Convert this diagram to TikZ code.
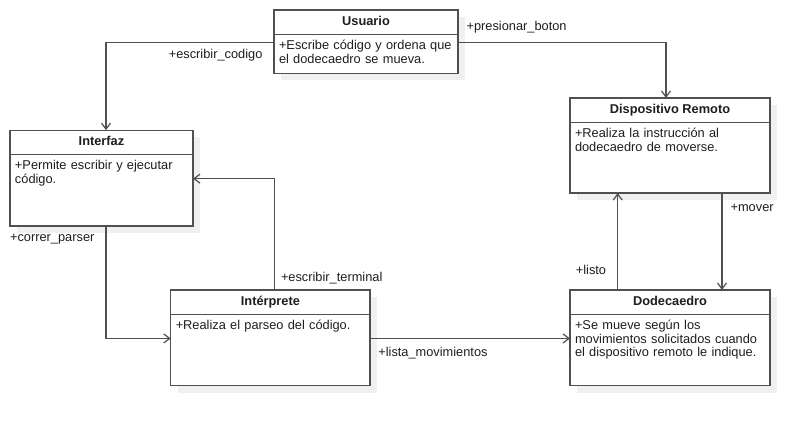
\documentclass[tikz,border=0pt]{standalone}
\usepackage{fontspec}
\setmainfont{Liberation Sans}
\usetikzlibrary{positioning,arrows.meta,shadows}
\definecolor{linegray}{HTML}{505050}
\definecolor{shadowgray}{HTML}{F0F0F0}
\definecolor{textgray}{HTML}{1E1E1E}
\tikzstyle{class head}=[
        draw = linegray,
        line width = 1.2pt,
        fill = white,
        text = textgray,
        outer sep = 0pt,
        minimum height = 24.5pt,
        text height = 9.3pt,
        text depth = 2.7pt,
        font = \fontsize{12.8}{13.3}\selectfont\bfseries,
        drop shadow = {shadow xshift=7pt, shadow yshift=-7pt, fill=shadowgray, opacity=1}
    ]
\tikzstyle{class body}=[
        draw = linegray,
        line width = 1.2pt,
        fill = white,
        text = textgray,
        outer sep = 0pt,
        inner xsep = 5pt,
        inner ysep = 0pt,
        align = left,
        text height = 15.3pt,
        text depth = 56pt,
        font = \fontsize{12.8}{13.3}\selectfont,
        drop shadow = {shadow xshift=7pt, shadow yshift=-7pt, fill=shadowgray, opacity=1}
    ]
\tikzstyle{link}=[
        draw = linegray,
        line width = 1.2pt,
        -{Straight Barb[length=6pt, width=9pt]}
    ]
\tikzstyle{role}=[
        inner sep = 0pt,
        text = textgray,
        font = \fontsize{12.8}{13.3}\selectfont
    ]

\begin{document}
\begin{tikzpicture}[x=1pt, y=-1pt]
        \fill[white] (0,0) rectangle (812,426);
        \useasboundingbox (0,0) rectangle (812,426);

        \node[class head, minimum width=184pt] (usr) at (366,22.2) {Usuario};
        \node[class body, text width=174pt, text depth=23.7pt, below=0pt of usr] (usrb) {+Escribe código y ordena que\\el dodecaedro se mueva.};

        \node[class head, minimum width=183pt] (intf) at (101.5,142.4) {Interfaz};
        \node[class body, text width=173pt, below=0pt of intf] (intfb) {+Permite escribir y ejecutar\\código.};

        \node[class head, minimum width=200pt] (disp) at (670,110.2) {Dispositivo Remoto};
        \node[class body, text width=190pt, text depth=55.3pt, below=0pt of disp] (dispb) {+Realiza la instrucción al\\dodecaedro de moverse.};

        \node[class head, minimum width=199.3pt] (interp) at (270.4,302.2) {Intérprete};
        \node[class body, text width=189.3pt, below=0pt of interp] (interpb) {+Realiza el parseo del código.};

        \node[class head, minimum width=200pt] (dode) at (670,302.2) {Dodecaedro};
        \node[class body, text width=190pt, below=0pt of dode] (dodeb) {+Se mueve según los\\movimientos solicitados cuando\\el dispositivo remoto le indique.};

        \draw[link] ([yshift=-8pt]usrb.north west) -| ([xshift=4.5pt]intf.north)
            node [role, pos=0, anchor=base east, xshift=-11pt, yshift=-16pt] {+escribir\_codigo};
        \draw[link] ([yshift=-8pt]usrb.north east) -| ([xshift=-4pt]disp.north)
            node [role, pos=0, anchor=base west, xshift=8pt, yshift=12.3pt] {+presionar\_boton};
        \draw[link] ([xshift=4.5pt]intfb.south) |- ([yshift=-24pt]interpb.north west)
            node [role, pos=0, anchor=base east, xshift=-11pt, yshift=-15.3pt] {+correr\_parser};
        \draw[link] ([xshift=4pt]interp.north) |- ([yshift=-24pt]intfb.north east)
            node [role, pos=0, anchor=base west, xshift=6pt, yshift=8.3pt] {+escribir\_terminal};
        \draw[link] ([yshift=-24pt]interpb.north east) -- ([yshift=-24pt]dodeb.north west)
            node [role, pos=0, anchor=base west, xshift=7.7pt, yshift=-17.7pt] {+lista\_movimientos};
        \draw[link] ([xshift=-52.3pt]dode.north) -- ([xshift=-52.3pt]dispb.south)
            node [role, pos=0, anchor=base east, xshift=-11pt, yshift=15pt] {+listo};
        \draw[link] ([xshift=52pt]dispb.south) -- ([xshift=52pt]dode.north)
            node [role, pos=0, anchor=base west, xshift=8pt, yshift=-18.4pt] {+mover};

    \end{tikzpicture}
\end{document}
